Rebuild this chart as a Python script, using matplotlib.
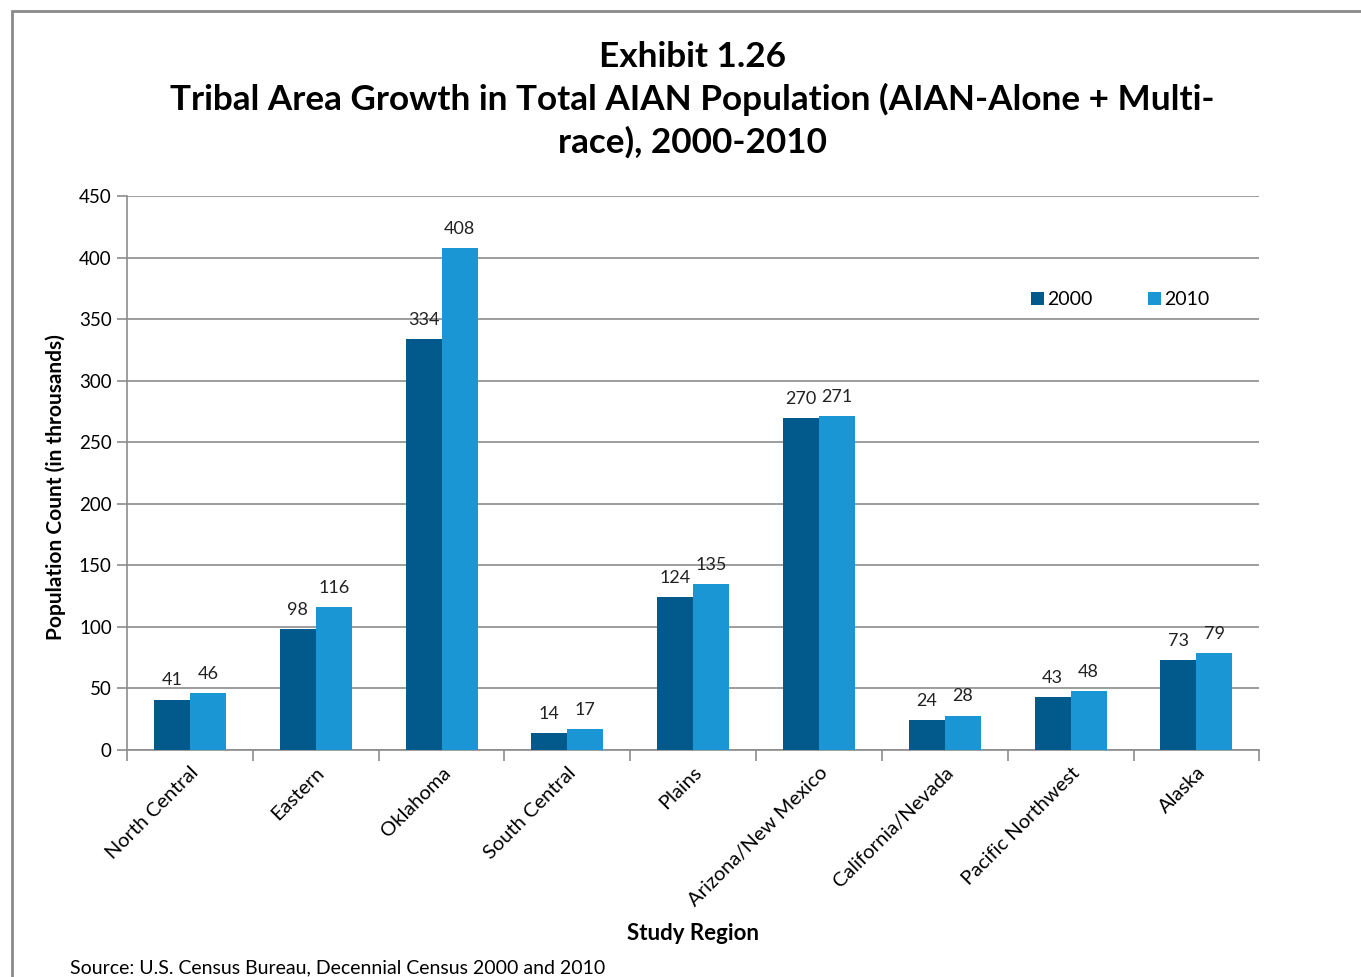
import numpy as np
import matplotlib.pyplot as plt
from matplotlib.patches import Rectangle

plt.rcParams['font.family'] = ['Lato', 'DejaVu Sans']

regions = ["North Central", "Eastern", "Oklahoma", "South Central", "Plains",
           "Arizona/New Mexico", "California/Nevada", "Pacific Northwest", "Alaska"]
pop_2000 = [41, 98, 334, 14, 124, 270, 24, 43, 73]
pop_2010 = [46, 116, 408, 17, 135, 271, 28, 48, 79]

dark = '#02598c'
light = '#1a96d4'
grid_c = '#8c8c8c'

fig = plt.figure(figsize=(13.61, 9.77), dpi=100)
ax = fig.add_axes([0.0933, 0.2323, 0.832, 0.5671])

x = np.arange(len(regions))
w = 0.286
b1 = ax.bar(x - w / 2, pop_2000, w, color=dark, label='2000', zorder=3)
b2 = ax.bar(x + w / 2, pop_2010, w, color=light, label='2010', zorder=3)

for bars, vals in ((b1, pop_2000), (b2, pop_2010)):
    for r, v in zip(bars, vals):
        ax.text(r.get_x() + r.get_width() / 2, v + 9, str(v), ha='center', va='bottom',
                fontsize=13, color='#222222')

ax.set_xlim(-0.5, len(regions) - 0.5)
ax.set_ylim(0, 450)
ax.set_yticks(np.arange(0, 451, 50))
ax.yaxis.grid(True, color=grid_c, linewidth=1.2, zorder=0)
ax.set_axisbelow(True)
for s in ('top', 'right'):
    ax.spines[s].set_visible(False)
for s in ('left', 'bottom'):
    ax.spines[s].set_color(grid_c)
    ax.spines[s].set_linewidth(1.2)

# boundary ticks between regions, labels on the centres
ax.set_xticks(np.arange(len(regions) + 1) - 0.5)
ax.set_xticklabels([])
ax.tick_params(axis='x', length=8, color=grid_c, width=1.2)
ax.set_xticks(x, minor=True)
ax.set_xticklabels(regions, minor=True, rotation=45, ha='right', rotation_mode='anchor',
                   fontsize=14.5)
ax.tick_params(axis='x', which='minor', length=0, pad=10)
ax.tick_params(axis='y', length=7, color=grid_c, width=1.2, labelsize=13.5, pad=4)

ax.set_ylabel('Population Count (in throusands)', fontsize=15, fontweight='bold')
ax.yaxis.set_label_coords(-0.054, 0.475)
ax.set_xlabel('Study Region', fontsize=16, fontweight='bold', labelpad=10)

ax.legend(loc='upper left', bbox_to_anchor=(0.783, 0.86), ncol=2, frameon=False,
          fontsize=14, handlelength=0.65, handleheight=0.65, handletextpad=0.15,
          columnspacing=2.9)

fig.text(0.509, 0.958, 'Exhibit 1.26\nTribal Area Growth in Total AIAN Population (AIAN-Alone + Multi-\nrace), 2000-2010',
         ha='center', va='top', fontsize=25.3, fontweight='bold', linespacing=1.37)
fig.text(0.0515, 0.001, 'Source: U.S. Census Bureau, Decennial Census 2000 and 2010',
         ha='left', va='bottom', fontsize=14)

fig.patches.append(Rectangle((12 / 1361, -0.1), 1.2, 1 - 11 / 977 + 0.1,
                             transform=fig.transFigure, fill=False,
                             edgecolor='#8a8a8a', linewidth=2))

fig.savefig('out.png', dpi=100)
